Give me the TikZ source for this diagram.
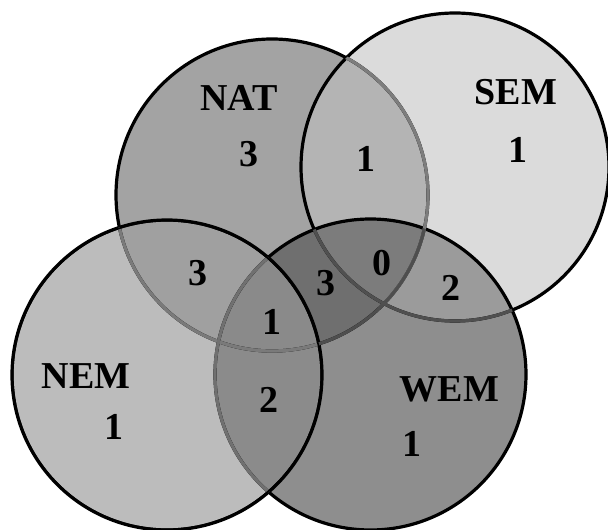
\documentclass[tikz,border=0pt]{standalone}
\usepackage{fontspec}
\setmainfont{Liberation Serif}
\definecolor{cNAT}{HTML}{A3A3A3}
\definecolor{cSEM}{HTML}{DBDBDB}
\definecolor{cNEM}{HTML}{BCBCBC}
\definecolor{cWEM}{HTML}{8E8E8E}
\definecolor{cNS}{HTML}{B4B4B4}
\definecolor{cNN}{HTML}{A0A0A0}
\definecolor{cNW}{HTML}{6F6F6F}
\definecolor{cSW}{HTML}{9B9B9B}
\definecolor{cNeW}{HTML}{8B8B8B}
\definecolor{cNSW}{HTML}{7C7C7C}
\definecolor{cNNW}{HTML}{8A8A8A}
\def\pNAT{(272,335) circle (156pt)}
\def\pSEM{(455,363) circle (154pt)}
\def\pNEM{(167,155) circle (155pt)}
\def\pWEM{(370.5,155.5) circle (155.5pt)}
\tikzset{
  lbl/.style={font=\fontsize{38}{40}\selectfont\bfseries, inner sep=0pt},
  rim/.style={line width=3.2pt}
}
\begin{document}
\begin{tikzpicture}[x=1pt,y=1pt]
\useasboundingbox (0,0) rectangle (608,530);
\fill[white] (0,0) rectangle (608,530);
% base fills
\fill[cNAT] \pNAT;
\fill[cSEM] \pSEM;
\fill[cNEM] \pNEM;
\fill[cWEM] \pWEM;
% pairwise overlaps
\begin{scope}
  \clip \pNAT;
  \fill[cNS] \pSEM;
  \fill[cNN] \pNEM;
  \fill[cNW] \pWEM;
\end{scope}
\begin{scope}
  \clip \pSEM;
  \fill[cSW] \pWEM;
\end{scope}
\begin{scope}
  \clip \pNEM;
  \fill[cNeW] \pWEM;
\end{scope}
% triple overlaps
\begin{scope}
  \clip \pNAT; \clip \pSEM;
  \fill[cNSW] \pWEM;
\end{scope}
\begin{scope}
  \clip \pNAT; \clip \pNEM;
  \fill[cNNW] \pWEM;
\end{scope}
% outlines
\draw[rim,black] \pNAT;
\draw[rim,black] \pSEM;
\draw[rim,black] \pWEM;
\draw[rim,black] \pNEM;
\begin{scope}
  \clip \pSEM;
  \draw[rim,color={rgb,255:red,125;green,125;blue,125}] \pNAT;
\end{scope}
\begin{scope}
  \clip \pWEM;
  \draw[rim,color={rgb,255:red,78;green,78;blue,78}] \pNAT;
  \draw[rim,color={rgb,255:red,80;green,80;blue,80}] \pSEM;
\end{scope}
\begin{scope}
  \clip \pNEM;
  \draw[rim,color={rgb,255:red,122;green,122;blue,122}] \pNAT;
  \draw[rim,color={rgb,255:red,112;green,112;blue,112}] \pWEM;
  \draw[rim,black] \pNEM;
\end{scope}
% labels
\node[lbl] (natl) at (239,432) {NAT};
\node[lbl] (natn) at (248.7,376) {3};
\node[lbl] (ns)   at (365.5,371) {1};
\node[lbl] (seml) at (516,438.3) {SEM};
\node[lbl] (semn) at (518,380.3) {1};
\node[lbl] (neml) at (86,154.3) {NEM};
\node[lbl] (nemn) at (114,103) {1};
\node[lbl] (weml) at (449.6,141) {WEM};
\node[lbl] (wemn) at (412,86) {1};
\node[lbl] (nw2)  at (268.5,130) {2};
\node[lbl] (nnw)  at (272,208.5) {1};
\node[lbl] (nn)   at (198,257) {3};
\node[lbl] (nwx)  at (326,247) {3};
\node[lbl] (nsw)  at (382,267) {0};
\node[lbl] (sw)   at (451,242) {2};
\end{tikzpicture}
\end{document}
